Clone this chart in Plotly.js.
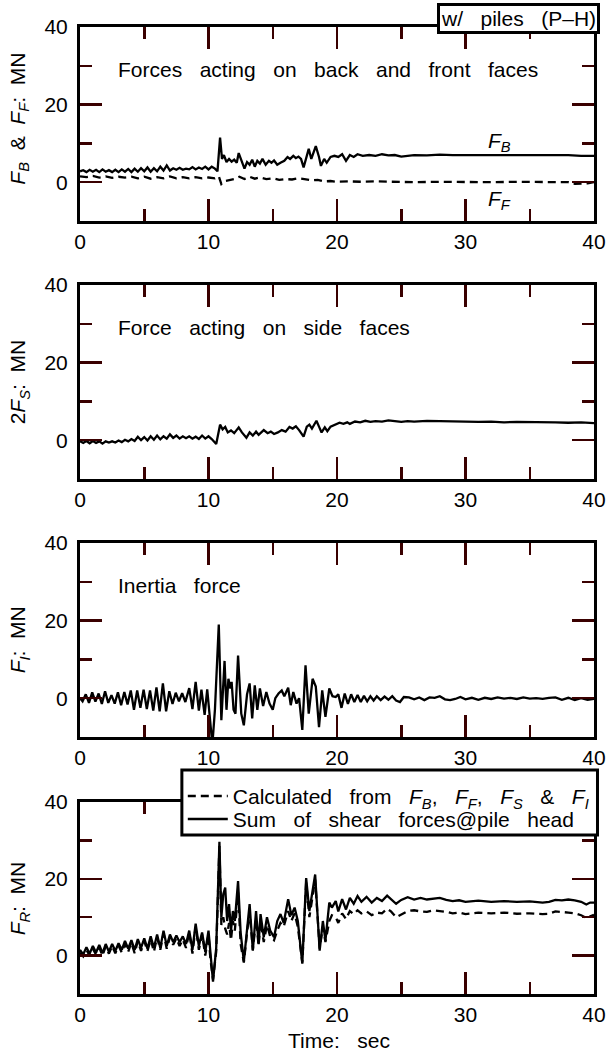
<!DOCTYPE html>
<html>
<head>
<meta charset="utf-8">
<script src="https://cdn.plot.ly/plotly-3.0.1.min.js"></script>
<style>html,body{margin:0;padding:0;background:#fff;}#plot{width:613px;height:1057px;}</style>
</head>
<body>
<div id="plot"></div>
<script>
// ---------- Panel 1: back (F_B) and front (F_F) face forces ----------
const tB = [0,0.25,0.5,0.75,1.0,1.25,1.5,1.75,2.0,2.25,2.5,2.75,3.0,3.25,3.5,3.75,4.0,4.25,4.5,4.75,5.0,5.25,5.5,5.75,6.0,6.25,6.5,6.75,7.0,7.25,7.5,7.75,8.0,8.25,8.5,8.75,9.0,9.25,9.5,9.75,10.0,10.25,10.5,10.7,10.9,11.05,11.2,11.4,11.6,11.8,12.0,12.2,12.35,12.55,12.8,13.0,13.2,13.4,13.6,13.8,14.0,14.2,14.45,14.7,14.9,15.1,15.35,15.6,15.9,16.15,16.35,16.6,16.8,17.0,17.2,17.4,17.6,17.8,18.0,18.35,18.6,18.75,19.0,19.2,19.5,19.8,20.1,20.4,20.7,21.0,21.3,21.6,22.0,22.5,23,23.5,24,24.5,25,26,27,28,29,30,31,32,33,34,35,36,37,38,39,40];
const FB = [2.8,3.1,2.6,3.2,2.7,3.2,2.6,3.3,2.7,3.1,2.6,3.2,2.6,3.3,2.7,3.4,2.6,3.5,2.7,3.6,2.8,3.8,2.7,3.6,2.8,4.0,3.0,4.3,3.0,3.6,3.2,3.7,3.2,3.5,3.3,3.9,3.3,3.8,3.4,4.0,3.3,4.0,3.5,2.8,11.5,6.0,7.0,5.2,6.0,5.3,5.8,5.0,7.5,5.5,3.5,5.2,4.5,5.8,4.0,5.5,4.8,6.0,4.5,5.5,5.0,5.6,4.5,5.0,5.5,6.5,6.0,6.8,6.2,6.6,6.0,3.8,6.5,8.6,6.0,9.3,6.5,4.2,6.0,5.0,6.5,6.8,6.5,7.2,5.5,7.0,6.5,7.2,6.8,7.0,6.8,7.2,6.9,7.0,6.6,7.0,6.9,7.1,7.0,7.0,7.0,6.9,7.0,7.0,6.9,7.0,6.9,7.0,6.8,6.8];
const tF = [0,0.5,1,1.5,2,2.5,3,3.5,4,4.5,5,5.5,6,6.5,7,7.5,8,8.5,9,9.5,10,10.5,10.8,11.0,11.3,11.6,12.0,12.4,12.8,13.2,13.6,14,14.5,15,15.5,16,16.5,17,17.5,18,18.5,19,19.5,20,21,22,23,24,25,26,28,30,32,34,36,38,38.5,39.5,40];
const FF = [1.5,1.3,1.6,1.2,1.5,1.1,1.4,1.2,1.4,1.0,1.4,0.9,1.3,1.0,1.5,1.0,1.3,1.0,1.3,1.0,1.2,1.0,1.5,-0.5,0.3,0.5,0.8,1.4,0.8,1.4,0.9,1.2,0.8,1.0,0.6,0.8,0.7,1.0,0.8,0.5,0.6,0.2,0.3,0.1,0.2,0.1,0.2,0.1,0.1,0.0,0.1,0.0,0.0,0.1,0.0,0.0,-0.4,-0.3,0.0];

// ---------- Panel 2: side face force 2F_S ----------
const tS = [0,0.25,0.5,0.75,1.0,1.25,1.5,1.75,2.0,2.25,2.5,2.75,3.0,3.25,3.5,3.75,4.0,4.25,4.5,4.75,5.0,5.25,5.5,5.75,6.0,6.25,6.5,6.75,7.0,7.25,7.5,7.75,8.0,8.25,8.5,8.75,9.0,9.25,9.5,9.75,10.0,10.25,10.6,10.9,11.1,11.3,11.5,11.75,12.0,12.35,12.6,12.95,13.2,13.45,13.7,13.9,14.3,14.6,14.85,15.1,15.4,15.7,16.0,16.3,16.55,16.8,17.05,17.4,17.65,17.85,18.05,18.4,18.6,18.8,19.05,19.25,19.5,19.8,20.2,20.5,20.8,21.0,21.4,21.8,22.2,22.6,23.0,23.5,24.0,24.5,25.0,25.5,26,27,28,29,30,31,32,33,34,35,36,37,38,39,40];
const FS2 = [-0.3,-0.7,-0.2,-0.8,-0.2,-0.7,-0.3,-0.9,-0.3,-0.6,-0.3,-0.6,-0.1,-0.5,0.1,-0.3,0.3,-0.2,0.9,0.0,0.8,-0.1,1.0,0.1,1.2,0.2,1.0,0.4,1.5,0.6,1.2,0.4,1.0,0.5,1.0,0.4,0.9,0.3,1.2,0.4,1.0,0.3,-1.0,4.0,2.8,3.4,2.0,2.5,1.8,3.3,2.0,0.6,2.0,1.2,2.2,1.4,2.6,1.8,2.2,1.6,2.0,2.6,2.2,3.4,3.0,3.6,2.6,0.9,3.5,4.0,3.0,5.0,3.5,2.0,3.3,2.3,3.5,4.0,4.5,4.2,4.6,4.2,4.8,4.6,5.0,4.7,4.9,4.8,5.1,4.9,4.7,4.9,4.8,5.0,4.9,4.8,4.8,4.7,4.8,4.6,4.7,4.7,4.6,4.6,4.5,4.6,4.4];

// ---------- Panel 3: inertia force F_I ----------
const tI = [0,0.2,0.45,0.7,0.95,1.2,1.45,1.7,1.95,2.2,2.45,2.7,2.95,3.2,3.45,3.7,3.95,4.2,4.45,4.7,4.95,5.2,5.45,5.7,5.95,6.2,6.45,6.7,6.95,7.2,7.45,7.7,7.95,8.2,8.5,8.75,9.0,9.25,9.45,9.7,9.9,10.1,10.3,10.5,10.8,11.0,11.25,11.4,11.55,11.7,11.8,11.95,12.1,12.3,12.55,12.75,13.0,13.2,13.4,13.6,13.8,14.0,14.25,14.5,14.75,15.0,15.2,15.45,15.7,15.9,16.2,16.4,16.6,16.85,17.05,17.3,17.55,17.8,18.1,18.35,18.6,18.85,19.1,19.4,19.65,19.9,20.1,20.35,20.6,20.85,21.1,21.35,21.6,21.85,22.1,22.35,22.6,22.85,23.1,23.4,23.7,24.0,24.3,24.6,24.9,25.2,25.6,26.0,26.4,26.8,27.2,27.6,28.0,28.4,28.8,29.2,29.6,30.0,30.5,31.0,31.5,32.0,32.5,33.0,33.5,34.0,34.5,35.0,35.5,36.0,36.5,37.0,37.5,38.0,38.5,39.0,39.5,40.0];
const FI = [0,-0.8,1.0,-1.2,1.5,-0.9,1.2,-1.5,1.8,-1.2,0.8,-1.4,1.5,-1.8,1.6,-1.6,2.0,-3.0,2.0,-2.5,2.2,-2.8,2.0,-3.2,2.8,-3.4,3.8,-3.4,1.8,-1.5,1.4,-0.8,1.3,-1.0,2.6,-2.8,4.2,-3.2,2.2,-4.3,2.3,-4.8,-12,-3,19,-5.7,9.6,-3,5,2.5,4.2,-3,-4,11,-4,-7,1,3.8,-5.2,3.3,-3,2.5,-2,1.6,-1.4,-3,0,1.2,2,0.5,2.7,-1.8,1.6,-1.4,0,-8.2,8.5,-4,5,3,-7.5,2,-4.8,2.5,0.5,0.3,1.0,-2.5,1.2,-1.5,1.0,-1.0,0.8,-1.0,0.6,-0.8,0.5,-0.6,0.5,-0.5,0.4,-0.4,0.5,-0.6,-1.0,0.3,0.2,-0.3,0.2,-0.5,0.2,0.1,0.5,-0.3,-0.5,-0.2,0.3,-0.3,0.1,-0.4,0.1,-0.2,0.2,-0.1,0.1,-0.2,0.2,-0.1,0,-0.2,0.1,0.2,-0.4,0.1,-0.5,0,-0.4,-0.2];

// ---------- Panel 4: total resistance F_R ----------
const tR = [0,0.25,0.5,0.75,1.0,1.25,1.5,1.75,2.0,2.25,2.5,2.75,3.0,3.25,3.5,3.75,4.0,4.25,4.5,4.75,5.0,5.25,5.5,5.75,6.0,6.25,6.5,6.75,7.0,7.25,7.5,7.75,8.0,8.25,8.5,8.75,9.0,9.25,9.5,9.75,10.0,10.15,10.35,10.6,10.85,11.0,11.15,11.3,11.45,11.6,11.75,11.9,12.05,12.3,12.5,12.75,13.0,13.2,13.45,13.7,13.9,14.05,14.3,14.55,14.8,15.1,15.35,15.6,15.85,16.2,16.45,16.7,16.95,17.3,17.6,17.85,18.3,18.65,18.9,19.1,19.4,19.6,19.9,20.1,20.4,20.7,21.0,21.3,21.6,21.9,22.3,22.7,23.1,23.5,23.9,24.2,24.6,25.0,25.5,26.0,26.5,27.0,27.5,28.0,28.5,29.0,29.5,30.0,31.0,32.0,33.0,34.0,35.0,36.0,36.5,37.0,37.5,38.0,38.5,39.0,39.4,39.7,40.0];
const FRsum = [1.5,0.3,2.2,0.5,2.5,0.8,2.8,0.6,3.0,1.0,3.0,1.2,3.2,1.5,3.8,1.8,4.0,1.5,4.3,2.0,4.5,1.8,5.0,2.0,5.5,2.0,6.5,2.5,5.5,3.5,5.2,3.5,5.0,3.0,6.5,1.5,8.3,2.5,6.0,1.0,6.5,0.0,-6.8,2.0,29.6,10,16,17.7,9,13.4,6.5,11.6,9,19.4,6,-1.5,8,13.4,1.3,11.6,3.0,10.8,4.8,10,6.5,4.8,9,10.8,8.5,14.7,10.5,12.5,9,-2.1,20.2,11.6,21.1,1.3,9,3.9,13.8,12.5,14.2,11.5,14.7,12.0,15.0,13.5,15.5,14.0,15.3,13.8,15.0,14.2,15.6,14.8,13.5,14.5,15.2,14.6,15.0,14.6,14.8,15.0,14.5,14.2,14.4,14.0,14.3,14.0,14.2,14.0,14.1,13.8,14.0,14.5,14.4,14.6,14.4,14.0,13.3,13.8,13.8];
const FRcalc = [0.8,-0.2,1.5,0.0,1.8,0.2,2.0,0.0,2.4,0.5,2.5,0.6,2.6,0.8,3.0,1.0,3.4,0.6,3.8,1.2,3.8,1.2,4.2,1.0,4.8,1.5,5.8,1.8,4.8,2.8,4.5,2.5,4.2,2.0,6.0,0.5,7.5,1.5,5.5,0.0,5.5,-1.0,-6.2,1.0,28.5,8,10,7.0,5.5,8.5,4.0,9.0,6.5,16.5,3.0,-1.8,6.0,11.5,1.5,9.5,2.5,9.0,3.5,8.0,5.0,4.0,6.5,8.5,7.5,11.6,9.0,11.0,7.5,-1.8,19.0,10.0,19.8,1.8,7.5,3.5,9.0,10.5,10.0,8.5,11.0,9.5,11.6,10.8,11.8,11.0,11.5,10.5,11.2,11.0,12.2,11.5,10.0,10.8,11.6,11.8,11.5,11.4,11.8,11.6,11.4,11.0,11.2,10.8,11.2,11.0,11.2,10.9,11.0,10.8,10.9,11.5,11.4,11.2,11.0,10.5,9.8,10.2,10.6];

// ---------- Text ----------
const yTitles = [
  '<i>F</i><sub><i>B</i></sub>\u00a0\u00a0&\u00a0\u00a0<i>F</i><sub><i>F</i></sub>:\u00a0\u00a0MN',
  '2<i>F</i><sub><i>S</i></sub>:\u00a0\u00a0MN',
  '<i>F</i><sub><i>I</i></sub>:\u00a0\u00a0MN',
  '<i>F</i><sub><i>R</i></sub>:\u00a0\u00a0MN'
];
const panelNotes = ['Forces acting on back and front faces', 'Force acting on side faces', 'Inertia force'];
const legendNames = ['Calculated from <i>F</i><sub><i>B</i></sub>, <i>F</i><sub><i>F</i></sub>, <i>F</i><sub><i>S</i></sub> & <i>F</i><sub><i>I</i></sub>', 'Sum of shear forces@pile head'];
const caseLabel = 'w/ piles (P\u2013H)';
const xTitle = 'Time: sec';

function wide(s, n){ return s.split(' ').join('\u00a0'.repeat(n || 3)); }

const FONT = 'Liberation Sans, Arial, Helvetica, sans-serif';
const LW = 2.3;
const solid = {color:'#000000', width:LW};
const dashed = {color:'#000000', width:LW, dash:'8px,5px'};

const traces = [
  {x:tB, y:FB, xaxis:'x', yaxis:'y', mode:'lines', line:solid, showlegend:false},
  {x:tF, y:FF, xaxis:'x', yaxis:'y', mode:'lines', line:dashed, showlegend:false},
  {x:tS, y:FS2, xaxis:'x2', yaxis:'y2', mode:'lines', line:solid, showlegend:false},
  {x:tI, y:FI, xaxis:'x3', yaxis:'y3', mode:'lines', line:solid, showlegend:false},
  {x:tR, y:FRcalc, xaxis:'x4', yaxis:'y4', mode:'lines', line:dashed, name:wide(legendNames[0], 3), showlegend:true, legend:'legend'},
  {x:tR, y:FRsum, xaxis:'x4', yaxis:'y4', mode:'lines', line:solid, name:wide(legendNames[1], 3), showlegend:true, legend:'legend2'}
];

// near-black tick colour (plain grey/black ticks were not shown by the renderer)
const TICKC = '#3a0000';
const tickfont = {family:FONT, size:21, color:'#000000'};
function xax(anchor){
  return {anchor:anchor, domain:[0,1], range:[0,40], tickmode:'linear', tick0:0, dtick:10,
    showline:true, linewidth:3, linecolor:'#000000', mirror:'ticks',
    ticks:'inside', ticklen:22, tickwidth:2.5, tickcolor:TICKC,
    minor:{ticks:'inside', ticklen:12, tickwidth:2.5, tickcolor:TICKC, dtick:5},
    showgrid:false, zeroline:false, tickfont:tickfont};
}
function yax(anchor, dom){
  return {anchor:anchor, domain:dom, range:[-10,40], tickmode:'linear', tick0:0, dtick:20,
    showline:true, linewidth:3, linecolor:'#000000', mirror:'ticks',
    ticks:'inside', ticklen:22, tickwidth:2.5, tickcolor:TICKC, ticklabelstandoff:5,
    minor:{ticks:'inside', ticklen:12, tickwidth:2.5, tickcolor:TICKC, dtick:10},
    showgrid:false, zeroline:false, tickfont:tickfont};
}

const doms = [[0.7994,1.0],[0.5326,0.7332],[0.2658,0.4664],[0,0.1986]];
const annFont = {family:FONT, size:21, color:'#000000'};
const annotations = [];
const titleY = [0.9056, 0.6329, 0.3661, 0.0993];
for (let i=0;i<4;i++){
  annotations.push({xref:'paper', yref:'paper', x:-0.118, y:titleY[i], text:yTitles[i], textangle:-90,
    showarrow:false, xanchor:'center', yanchor:'middle', font:annFont});
}
const noteAx = [['x','y'],['x2','y2'],['x3','y3']];
for (let i=0;i<3;i++){
  annotations.push({xref:noteAx[i][0], yref:noteAx[i][1], x:2.8, y:29, text:wide(panelNotes[i]),
    showarrow:false, xanchor:'left', yanchor:'middle', font:annFont});
}
annotations.push({xref:'x', yref:'y', x:31.6, y:10.4, text:'<i>F</i><sub><i>B</i></sub>', showarrow:false, xanchor:'left', yanchor:'middle', font:annFont});
annotations.push({xref:'x', yref:'y', x:31.6, y:-4.6, text:'<i>F</i><sub><i>F</i></sub>', showarrow:false, xanchor:'left', yanchor:'middle', font:annFont});
annotations.push({xref:'paper', yref:'paper', x:1.0126, y:1.0093, text:wide(caseLabel), showarrow:false,
  xanchor:'right', yanchor:'middle', font:annFont, bordercolor:'#000000', borderwidth:3, borderpad:1, bgcolor:'#ffffff'});
annotations.push({xref:'paper', yref:'paper', x:0.503, y:-0.0476, text:wide(xTitle), showarrow:false,
  xanchor:'center', yanchor:'middle', font:annFont});

const shapes = [{type:'rect', xref:'paper', yref:'paper', x0:0.1982, x1:1.0068, y0:0.1644, y1:0.2316,
  line:{color:'#000000', width:3}, fillcolor:'#ffffff', layer:'above'}];

const legFont = {family:FONT, size:21, color:'#000000'};
const layout = {
  width:613, height:1057,
  margin:{l:80, r:19, t:27, b:63},
  xaxis:xax('y'), xaxis2:xax('y2'), xaxis3:xax('y3'), xaxis4:xax('y4'),
  yaxis:yax('x',doms[0]), yaxis2:yax('x2',doms[1]), yaxis3:yax('x3',doms[2]), yaxis4:yax('x4',doms[3]),
  showlegend:true,
  legend:{x:0.2, y:0.2044, xanchor:'left', yanchor:'middle', bgcolor:'rgba(0,0,0,0)', borderwidth:0, font:legFont, itemwidth:40},
  legend2:{x:0.2, y:0.1806, xanchor:'left', yanchor:'middle', bgcolor:'rgba(0,0,0,0)', borderwidth:0, font:legFont, itemwidth:40},
  shapes:shapes,
  annotations:annotations
};

Plotly.newPlot('plot', traces, layout, {staticPlot:true});
</script>
</body>
</html>
